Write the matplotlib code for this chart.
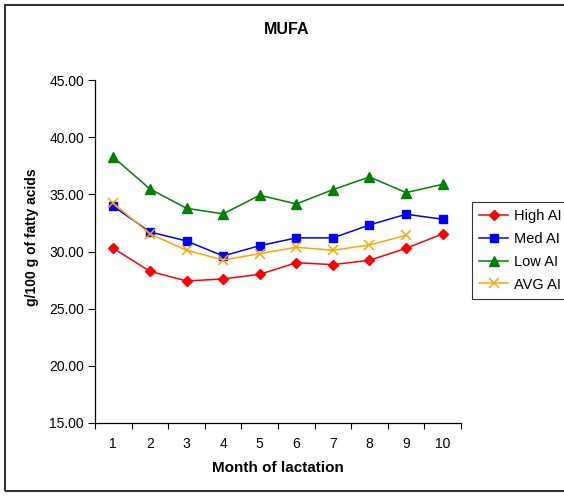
import matplotlib
matplotlib.use("Agg")
import matplotlib.pyplot as plt
from matplotlib.patches import Rectangle

plt.rcParams['font.family'] = ['Liberation Sans', 'DejaVu Sans']

months = [1, 2, 3, 4, 5, 6, 7, 8, 9, 10]
high_ai = [30.28, 28.27, 27.42, 27.60, 28.00, 29.02, 28.85, 29.23, 30.28, 31.54]
med_ai = [33.96, 31.71, 30.92, 29.61, 30.51, 31.19, 31.19, 32.32, 33.26, 32.82]
low_ai = [38.25, 35.47, 33.78, 33.29, 34.92, 34.16, 35.41, 36.52, 35.15, 35.88]
avg_ai = [34.22, 31.54, 30.11, 29.26, 29.81, 30.37, 30.11, 30.57, 31.42]
y_ticks = [15, 20, 25, 30, 35, 40, 45]

W, H = 564, 496
fig = plt.figure(figsize=(W / 100, H / 100), dpi=100)
ax = fig.add_axes([95 / W, 1 - 423 / H, (461 - 95) / W, (423 - 80) / H])

ax.plot(months, high_ai, color='#ff0000', marker='D', markersize=5, lw=1.1, label='High AI')
ax.plot(months, med_ai, color='#0000ff', marker='s', markersize=6, lw=1.1, label='Med AI')
ax.plot(months, low_ai, color='#008000', marker='^', markersize=7, lw=1.1, label='Low AI')
ax.plot(months[:len(avg_ai)], avg_ai, color='#ffa500', marker='x', markersize=7,
        markeredgewidth=1.1, lw=1.1, label='AVG AI')

ax.set_xlim(0.5, 10.5)
ax.set_ylim(15, 45)
ax.set_yticks(y_ticks)
ax.set_yticklabels([f"{v:.2f}" for v in y_ticks], fontsize=10)
ax.set_xticks(months)
ax.set_xticklabels([str(m) for m in months], fontsize=10)
ax.set_xticks([m + 0.5 for m in [0] + months], minor=True)
ax.tick_params(axis='x', which='major', length=0, pad=10)
ax.tick_params(axis='x', which='minor', length=4, width=0.8, direction='out')
ax.tick_params(axis='y', length=5, width=0.8, direction='out', pad=3)

for side in ['top', 'right']:
    ax.spines[side].set_visible(False)
for side in ['left', 'bottom']:
    ax.spines[side].set_linewidth(0.9)

ax.set_xlabel('Month of lactation', fontsize=11, fontweight='bold', labelpad=7)
ax.set_ylabel('g/100 g of fatty acids', fontsize=10, fontweight='bold', va='center')
ax.yaxis.set_label_coords(-0.172, 0.542)
fig.text(287 / W, 1 - 30 / H, 'MUFA', fontsize=11.5, fontweight='bold', ha='center', va='center')

leg = fig.legend(loc='upper left', bbox_to_anchor=(472 / W, 1 - 202 / H), fontsize=10.5,
                 frameon=True, fancybox=False, edgecolor='black', borderpad=0.5,
                 handlelength=2.0, labelspacing=0.6, handletextpad=0.4, borderaxespad=0)
leg.get_frame().set_linewidth(0.8)

# outer border of the chart area
fig.patches.append(Rectangle((5 / W, 5 / H), 1.2, 1 - 10 / H, transform=fig.transFigure,
                             fill=False, edgecolor='#333333', lw=1.5))

fig.savefig('out.png', dpi=100)
